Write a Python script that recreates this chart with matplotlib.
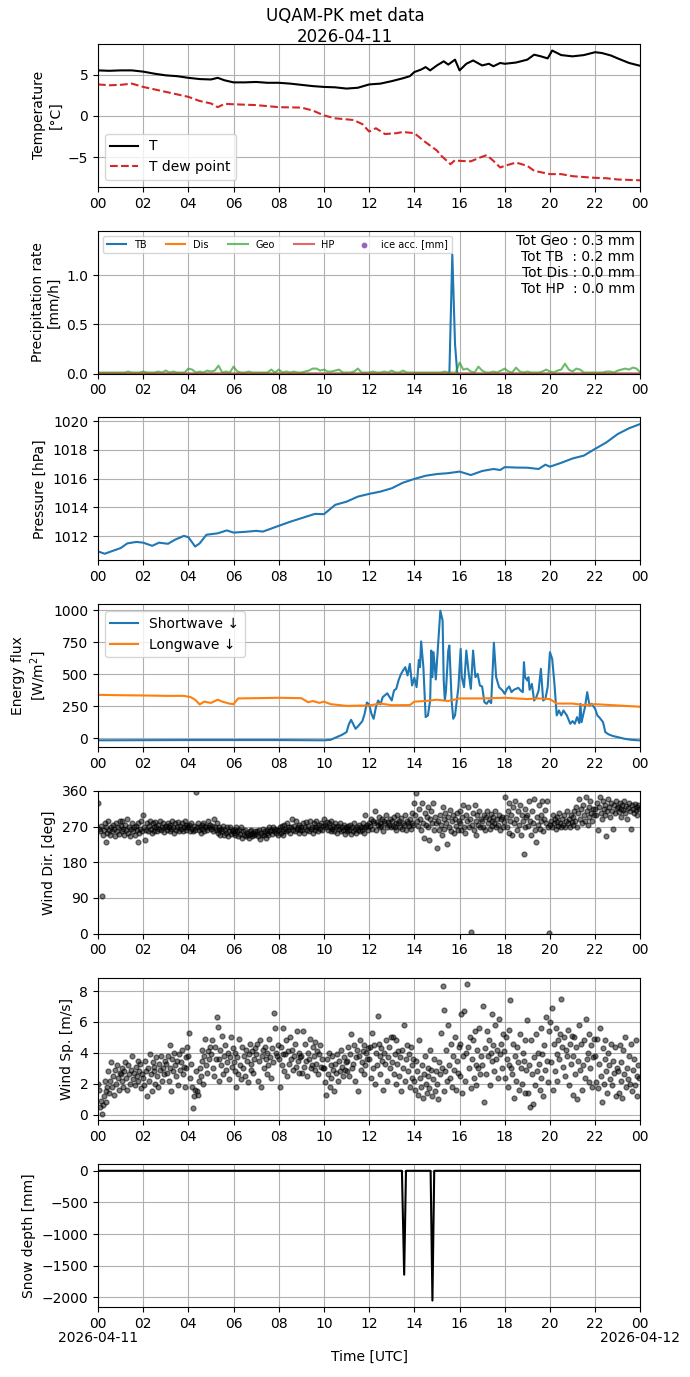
import numpy as np
import matplotlib
matplotlib.use("Agg")
import matplotlib.pyplot as plt
import matplotlib.dates as mdates
from matplotlib.ticker import FixedLocator, FuncFormatter

day = np.datetime64("2026-04-11T00:00")

# --- temperature (hours, degC)
t_hours = [0, 0.5, 1, 1.5, 2, 2.5, 3, 3.5, 4, 4.5, 5, 5.3, 5.6, 6, 6.5, 7, 7.5, 8, 8.5, 9, 9.5, 10,
           10.5, 11, 11.5, 12, 12.5, 13, 13.5, 13.8, 14, 14.3, 14.5, 14.7, 15, 15.3, 15.5, 15.8, 16,
           16.3, 16.6, 17, 17.3, 17.5, 17.8, 18, 18.5, 19, 19.3, 19.6, 19.9, 20.1, 20.5, 21, 21.5,
           22, 22.3, 22.7, 23, 23.5, 24]
temp = [5.5, 5.45, 5.5, 5.5, 5.35, 5.1, 4.9, 4.8, 4.6, 4.45, 4.4, 4.6, 4.3, 4.05, 4.05, 4.1, 4.0, 4.0,
        3.9, 3.75, 3.6, 3.5, 3.45, 3.3, 3.4, 3.8, 3.9, 4.2, 4.55, 4.8, 5.3, 5.6, 5.9, 5.5, 6.1, 6.6,
        6.2, 6.8, 5.5, 6.3, 6.7, 6.1, 6.3, 6.0, 6.4, 6.3, 6.45, 6.8, 7.4, 7.2, 6.95, 7.9, 7.35, 7.2,
        7.35, 7.7, 7.6, 7.3, 6.95, 6.4, 6.05]
dew_hours = [0, 0.5, 1, 1.5, 2, 2.5, 3, 3.5, 4, 4.5, 5, 5.3, 5.6, 6, 7, 8, 9, 9.5, 10, 10.5, 11.3,
             11.7, 12, 12.3, 12.7, 13.2, 13.5, 14, 14.5, 15, 15.2, 15.6, 15.8, 16, 16.5, 16.9, 17.2,
             17.5, 17.8, 18, 18.5, 19, 19.3, 20, 20.5, 21, 22, 22.5, 23, 24]
dew = [3.8, 3.7, 3.75, 3.9, 3.5, 3.2, 2.9, 2.6, 2.3, 1.8, 1.5, 1.05, 1.45, 1.4, 1.3, 1.05, 1.0, 0.65,
       0.05, -0.3, -0.5, -1.0, -1.9, -1.5, -2.2, -2.1, -1.95, -2.1, -3.2, -4.2, -4.85, -5.85, -5.35,
       -5.45, -5.5, -5.05, -4.75, -5.45, -6.25, -6.05, -5.65, -6.05, -6.65, -7.05, -7.05, -7.3,
       -7.5, -7.55, -7.7, -7.8]

# --- precipitation rate (mm/h)
tb_hours = [0, 15.5, 15.55, 15.68, 15.8, 15.9, 24]
tb_rate = [0, 0, 0, 1.21, 0.3, 0, 0]
zero_hours = [0, 24]
dis_rate = [0, 0]
hp_rate = [0, 0]
geo_rate = [0.01, 0.01, 0.01, 0.01, 0.01, 0.01,
            0.01, 0.01, 0.02, 0.01, 0.01, 0.01,
            0.02, 0.01, 0.01, 0.01, 0.02, 0.01,
            0.03, 0.01, 0.02, 0.01, 0.01, 0.01,
            0.05, 0.04, 0.01, 0.02, 0.01, 0.03,
            0.02, 0.03, 0.08, 0.01, 0.02, 0.01,
            0.07, 0.02, 0.01, 0.01, 0.02, 0.01,
            0.01, 0.01, 0.01, 0.01, 0.04, 0.01,
            0.04, 0.01, 0.02, 0.01, 0.02, 0.01,
            0.01, 0.02, 0.03, 0.05, 0.05, 0.03,
            0.04, 0.02, 0.02, 0.03, 0.04, 0.01,
            0.01, 0.01, 0.02, 0.05, 0.01, 0.01,
            0.01, 0.02, 0.01, 0.01, 0.02, 0.01,
            0.03, 0.01, 0.01, 0.03, 0.01, 0.01,
            0.01, 0.01, 0.01, 0.01, 0.01, 0.01,
            0.01, 0.01, 0.02, 0.01, 0.01, 0.01,
            0.11, 0.04, 0.05, 0.02, 0.01, 0.07,
            0.03, 0.01, 0.01, 0.02, 0.01, 0.03,
            0.05, 0.02, 0.01, 0.06, 0.02, 0.01,
            0.02, 0.01, 0.01, 0.01, 0.02, 0.04,
            0.02, 0.01, 0.03, 0.04, 0.10, 0.04,
            0.02, 0.05, 0.04, 0.01, 0.01, 0.01,
            0.01, 0.01, 0.01, 0.02, 0.02, 0.01,
            0.03, 0.04, 0.05, 0.04, 0.06, 0.05,
            0.01]
totals_text = "Tot Geo : 0.3 mm\nTot TB  : 0.2 mm\nTot Dis : 0.0 mm\nTot HP  : 0.0 mm"

# --- pressure (hPa)
p_hours = [0, 0.3, 0.6, 1, 1.3, 1.7, 2, 2.4, 2.7, 3.1, 3.4, 3.8, 4.0, 4.3, 4.5, 4.8, 5.3, 5.7, 6,
           6.5, 7, 7.3, 8, 8.5, 9, 9.6, 10, 10.5, 11, 11.5, 12, 12.5, 13, 13.5, 14, 14.5, 15, 15.5,
           16, 16.5, 17, 17.5, 17.8, 18, 18.5, 19, 19.5, 19.8, 20, 20.5, 21, 21.5, 22, 22.5, 23,
           23.5, 24]
pressure = [1010.94, 1010.78, 1010.95, 1011.17, 1011.5, 1011.6, 1011.55, 1011.33, 1011.55, 1011.47,
            1011.75, 1012.02, 1011.93, 1011.28, 1011.5, 1012.1, 1012.2, 1012.4, 1012.25, 1012.3,
            1012.37, 1012.32, 1012.72, 1013.0, 1013.25, 1013.55, 1013.53, 1014.18, 1014.4, 1014.75,
            1014.94, 1015.1, 1015.33, 1015.72, 1015.98, 1016.2, 1016.32, 1016.38, 1016.49, 1016.25,
            1016.53, 1016.67, 1016.6, 1016.8, 1016.77, 1016.76, 1016.67, 1016.97, 1016.83, 1017.1,
            1017.4, 1017.6, 1018.07, 1018.52, 1019.1, 1019.5, 1019.8]

# --- radiation (W/m2)
sw_hours = [0, 2, 4, 6, 8, 9, 10, 10.3, 10.5, 10.8, 11.0, 11.1, 11.2, 11.4, 11.5, 11.7, 11.8, 11.9,
            12.0, 12.1, 12.2, 12.3, 12.4, 12.5, 12.6, 12.8, 13.0, 13.1, 13.2, 13.3, 13.4, 13.5, 13.6,
            13.7, 13.8, 13.9, 14.0, 14.1, 14.2, 14.25, 14.3, 14.4, 14.45, 14.5, 14.6, 14.7, 14.75,
            14.8, 14.85, 14.95, 15.15, 15.25, 15.3, 15.35, 15.4, 15.5, 15.55, 15.65, 15.72, 15.8,
            15.95, 16.05, 16.1, 16.2, 16.3, 16.4, 16.5, 16.6, 16.7, 16.8, 16.9, 17.0, 17.1, 17.2,
            17.3, 17.4, 17.45, 17.52, 17.62, 17.75, 17.9, 18.0, 18.1, 18.2, 18.3, 18.4, 18.6, 18.7,
            18.8, 18.85, 18.9, 19.0, 19.05, 19.1, 19.2, 19.3, 19.4, 19.5, 19.6, 19.7, 19.8, 19.9,
            20.0, 20.1, 20.2, 20.3, 20.4, 20.5, 20.6, 20.75, 20.9, 21.0, 21.1, 21.2, 21.3, 21.35,
            21.4, 21.55, 21.65, 21.75, 21.85, 22.0, 22.1, 22.2, 22.35, 22.45, 22.6, 22.8, 23.0, 23.3,
            23.6, 24]
shortwave = [-17, -16, -15, -15, -15, -16, -17, -13, 3, 26, 47, 107, 143, 73, 91, 133, 190, 278, 263,
             190, 151, 242, 294, 263, 320, 350, 294, 372, 385, 450, 497, 528, 554, 489, 580, 411,
             471, 398, 611, 554, 755, 554, 359, 164, 177, 294, 684, 476, 671, 458, 995, 918, 450,
             294, 372, 684, 723, 294, 151, 177, 398, 697, 476, 398, 684, 515, 385, 684, 476, 502,
             411, 403, 281, 268, 294, 273, 476, 745, 476, 398, 372, 346, 385, 403, 359, 377, 393,
             372, 359, 593, 476, 450, 476, 377, 424, 294, 320, 372, 541, 294, 307, 398, 671, 619,
             424, 177, 216, 177, 216, 177, 112, 133, 112, 164, 117, 268, 125, 242, 359, 255, 268,
             229, 177, 159, 125, 47, 29, 16, 8, -5, -13, -18]
lw_hours = [0, 1, 2, 3, 3.8, 4.1, 4.3, 4.5, 4.7, 5.0, 5.3, 5.5, 5.8, 6.0, 6.2, 7, 8, 9, 9.3, 9.5,
            9.8, 10.0, 10.3, 11, 12, 12.5, 13, 13.8, 14, 14.5, 15, 15.5, 16, 17, 18, 19, 19.5, 20,
            20.3, 21, 21.5, 22, 23, 24]
longwave = [338, 335, 333, 330, 330, 320, 300, 263, 285, 275, 300, 285, 270, 265, 310, 312, 315, 312,
            280, 290, 275, 285, 265, 252, 255, 270, 257, 258, 285, 290, 300, 290, 310, 310, 315, 305,
            310, 305, 270, 270, 258, 265, 255, 245]

# --- wind, 2.5 min samples (24 per hour)
wind_dir = [
    330, 265, 258, 272, 95, 250, 262, 280, 230, 268, 255, 285, 262, 248, 270, 258, 275, 265, 245, 280, 260, 270, 252, 285,
    272, 258, 285, 265, 250, 275, 262, 288, 255, 270, 245, 265, 280, 258, 268, 250, 272, 262, 230, 278, 255, 265, 285, 260,
    300, 270, 235, 262, 280, 258, 272, 285, 265, 255, 278, 268, 260, 282, 270, 258, 275, 265, 285, 262, 270, 278, 256, 268,
    272, 262, 280, 268, 258, 275, 265, 285, 270, 255, 278, 262, 268, 282, 260, 272, 265, 278, 258, 270, 284, 262, 275, 268,
    268, 275, 260, 280, 265, 258, 272, 262, 358, 270, 278, 262, 268, 255, 275, 265, 280, 260, 272, 268, 262, 285, 270, 275,
    265, 272, 258, 290, 268, 262, 278, 255, 270, 262, 250, 265, 258, 272, 248, 262, 255, 268, 245, 260, 270, 252, 262, 258,
    255, 262, 248, 270, 258, 245, 262, 252, 268, 242, 258, 250, 262, 245, 255, 248, 240, 258, 252, 262, 245, 255, 250, 260,
    252, 258, 245, 262, 238, 255, 250, 265, 248, 258, 242, 262, 255, 250, 268, 258, 262, 252, 270, 258, 265, 255, 262, 250,
    262, 268, 255, 272, 260, 250, 275, 265, 258, 280, 262, 270, 255, 268, 290, 262, 272, 258, 285, 265, 270, 255, 275, 262,
    270, 262, 278, 255, 268, 282, 262, 272, 258, 285, 265, 270, 255, 278, 268, 262, 285, 270, 258, 275, 265, 280, 262, 272,
    290, 275, 268, 282, 262, 278, 270, 258, 285, 265, 272, 260, 278, 268, 255, 272, 265, 280, 258, 270, 262, 275, 252, 268,
    265, 258, 272, 262, 275, 252, 268, 260, 278, 265, 255, 270, 262, 275, 258, 268, 262, 280, 270, 255, 300, 268, 275, 262,
    280, 272, 290, 265, 285, 278, 310, 262, 282, 275, 295, 268, 280, 272, 290, 260, 285, 278, 300, 270, 282, 275, 290, 268,
    285, 272, 295, 268, 280, 262, 300, 278, 285, 270, 292, 265, 280, 275, 298, 262, 285, 278, 272, 290, 265, 305, 280, 275,
    330, 300, 355, 285, 272, 315, 290, 262, 330, 280, 240, 305, 275, 295, 320, 268, 235, 290, 310, 278, 330, 262, 295, 280,
    215, 285, 262, 300, 275, 250, 320, 288, 265, 305, 280, 225, 295, 270, 312, 260, 285, 300, 255, 290, 272, 305, 262, 285,
    280, 310, 262, 295, 325, 270, 255, 300, 285, 320, 268, 290, 5, 275, 305, 262, 325, 285, 250, 298, 275, 310, 268, 290,
    285, 270, 300, 262, 295, 310, 278, 290, 265, 302, 285, 272, 295, 280, 310, 268, 290, 275, 300, 262, 288, 295, 270, 282,
    345, 295, 270, 310, 255, 330, 285, 300, 250, 320, 278, 335, 290, 262, 310, 275, 325, 250, 300, 285, 200, 315, 270, 295,
    300, 272, 335, 285, 250, 310, 280, 340, 262, 230, 295, 275, 325, 265, 300, 285, 335, 258, 290, 312, 278, 335, 270, 2,
    275, 285, 268, 300, 278, 290, 265, 282, 295, 272, 305, 280, 268, 290, 275, 298, 270, 285, 310, 278, 290, 268, 300, 282,
    295, 275, 310, 285, 320, 270, 305, 340, 290, 315, 278, 325, 300, 285, 345, 310, 275, 320, 295, 335, 305, 285, 315, 300,
    315, 300, 330, 262, 320, 345, 305, 290, 335, 315, 300, 325, 245, 310, 340, 320, 295, 330, 310, 265, 325, 305, 335, 318,
    320, 308, 330, 315, 295, 325, 312, 335, 305, 322, 290, 318, 330, 310, 265, 325, 315, 305, 328, 312, 320, 300, 325, 315]
wind_speed = [
    2.0, 1.6, 0.5, 0.9, 0.05, 0.6, 1.2, 2.2, 1.5, 0.8, 1.8, 2.8, 1.4, 2.2, 3.4, 1.8, 2.5, 1.3, 2.9, 2.0, 3.2, 2.4, 1.6, 2.7,
    2.6, 3.0, 2.2, 1.8, 2.8, 3.4, 2.4, 1.6, 3.2, 2.6, 2.0, 2.9, 3.8, 2.3, 2.7, 1.9, 3.1, 2.5, 3.5, 2.2, 2.8, 3.3, 1.7, 2.6,
    2.4, 1.9, 3.5, 2.8, 1.2, 3.0, 2.2, 3.9, 2.6, 1.5, 3.4, 2.8, 3.1, 2.0, 3.7, 2.5, 1.8, 3.3, 2.9, 3.8, 2.2, 3.0, 2.6, 3.5,
    3.3, 2.7, 3.8, 2.2, 4.5, 3.0, 1.5, 3.6, 2.8, 4.0, 3.2, 2.5, 3.5, 1.9, 3.9, 2.9, 3.4, 4.2, 2.6, 3.1, 1.8, 3.7, 3.0, 4.4,
    3.8, 5.3, 2.4, 3.3, 1.8, 0.4, 1.2, 1.6, 2.8, 1.5, 1.3, 2.2, 3.0, 2.5, 4.2, 3.5, 2.0, 3.8, 4.9, 3.2, 2.7, 4.1, 3.6, 4.4,
    3.9, 4.8, 3.0, 2.5, 4.4, 3.6, 6.3, 5.7, 3.6, 2.2, 4.2, 3.2, 5.1, 2.6, 3.8, 4.5, 2.9, 3.4, 4.0, 2.3, 3.7, 5.0, 3.1, 4.3,
    3.4, 2.8, 4.0, 1.8, 3.7, 2.6, 4.9, 3.2, 2.3, 4.4, 3.0, 3.8, 2.5, 4.2, 3.5, 2.1, 3.9, 4.6, 2.9, 3.3, 4.1, 2.7, 3.6, 4.3,
    3.9, 4.6, 2.2, 3.5, 4.8, 1.8, 3.8, 4.2, 3.0, 4.4, 3.6, 2.6, 4.0, 3.2, 4.9, 3.7, 2.4, 4.3, 3.4, 6.6, 5.6, 4.0, 3.8, 4.5,
    3.6, 1.8, 4.4, 3.2, 3.9, 5.6, 2.8, 3.9, 4.8, 2.5, 4.1, 3.3, 5.0, 3.6, 4.2, 2.9, 3.8, 4.6, 3.1, 5.4, 3.5, 4.0, 2.7, 3.7,
    3.8, 2.7, 5.4, 3.1, 4.6, 3.5, 2.5, 4.0, 3.6, 4.9, 3.0, 3.2, 4.4, 3.8, 2.9, 4.7, 3.3, 4.1, 2.6, 3.9, 4.5, 3.1, 3.6, 3.0,
    3.0, 2.1, 1.3, 3.6, 2.6, 4.0, 1.8, 3.2, 2.4, 3.8, 2.9, 1.5, 3.3, 2.7, 3.9, 2.2, 3.5, 2.8, 4.2, 3.1, 2.5, 3.7, 2.9, 3.4,
    3.5, 2.8, 4.4, 2.5, 3.9, 5.2, 3.0, 3.3, 4.5, 2.2, 3.7, 4.2, 1.5, 3.8, 4.8, 2.9, 3.4, 4.1, 2.6, 4.5, 3.2, 4.0, 3.6, 4.3,
    3.6, 4.4, 2.4, 5.3, 3.0, 4.5, 2.0, 4.0, 3.2, 6.4, 4.6, 3.8, 2.6, 4.3, 3.5, 1.6, 4.0, 3.3, 4.8, 2.2, 3.7, 4.4, 3.0, 5.0,
    3.4, 5.0, 2.6, 3.9, 2.0, 4.8, 3.3, 4.1, 2.5, 3.7, 1.5, 4.2, 3.0, 5.8, 2.2, 3.6, 4.5, 2.8, 3.9, 1.8, 4.4, 3.2, 2.4, 3.6,
    2.2, 1.6, 3.5, 2.8, 1.3, 4.8, 2.4, 1.8, 3.2, 1.1, 2.6, 3.8, 2.0, 1.4, 3.0, 2.5, 1.7, 4.2, 2.9, 1.2, 2.3, 3.6, 1.5, 2.8,
    2.0, 1.0, 3.4, 2.6, 5.3, 3.0, 8.3, 6.8, 1.5, 2.8, 4.2, 2.2, 5.8, 3.2, 2.4, 4.6, 1.8, 3.8, 2.9, 5.0, 1.6, 3.5, 2.7, 4.4,
    4.6, 2.5, 6.5, 1.4, 3.8, 6.7, 2.2, 4.0, 8.45, 4.4, 3.0, 5.0, 1.7, 3.6, 4.8, 2.4, 5.4, 3.2, 1.9, 4.2, 3.0, 5.6, 2.6, 3.8,
    3.2, 7.0, 0.8, 4.3, 2.6, 5.4, 3.8, 4.8, 1.9, 4.0, 6.5, 3.5, 4.5, 2.8, 5.8, 3.6, 4.2, 2.4, 6.2, 3.9, 4.6, 3.0, 5.2, 4.1,
    2.4, 5.0, 3.6, 1.8, 5.5, 3.2, 7.4, 3.0, 2.6, 4.6, 1.1, 3.8, 2.2, 4.4, 3.4, 1.6, 5.2, 3.0, 2.0, 4.0, 3.5, 1.4, 4.8, 2.9,
    6.1, 1.4, 3.2, 0.5, 4.8, 2.6, 0.7, 3.7, 1.9, 5.2, 2.8, 4.0, 3.3, 1.6, 5.6, 2.4, 3.9, 1.2, 4.5, 2.9, 6.3, 3.5, 2.1, 5.4,
    6.0, 3.4, 6.9, 1.6, 4.6, 2.8, 5.6, 3.9, 2.2, 4.8, 3.6, 5.2, 7.5, 4.4, 3.1, 5.0, 2.5, 4.2, 3.8, 5.5, 1.9, 4.6, 3.3, 5.1,
    1.3, 3.8, 5.0, 2.6, 4.4, 1.0, 3.5, 5.8, 2.9, 4.6, 1.6, 3.2, 4.8, 2.4, 6.2, 3.6, 4.0, 2.1, 5.2, 3.0, 4.5, 1.8, 3.7, 4.9,
    3.8, 2.1, 4.9, 1.7, 3.3, 5.6, 2.5, 0.8, 4.3, 2.0, 3.6, 4.8, 2.8, 1.4, 4.0, 3.2, 2.3, 4.6, 1.9, 3.5, 2.7, 4.4, 1.2, 3.0,
    2.8, 1.4, 4.5, 2.2, 3.4, 1.1, 4.2, 2.6, 5.0, 1.8, 3.0, 2.3, 3.8, 2.0, 4.6, 1.5, 2.9, 3.6, 1.9, 4.8, 2.5, 1.2, 3.2, 2.4]

# --- snow depth (mm)
snow_hours = [0, 13.45, 13.55, 13.63, 14.72, 14.8, 14.88, 24]
snow_depth = [0, 0, -1643, 0, 0, -2052, 0, 0]


def to_time(hours):
    secs = np.round(np.asarray(hours, dtype=float) * 3600).astype("int64")
    return day + secs.astype("timedelta64[s]")


wind_time = to_time(np.arange(len(wind_dir)) / 24)
geo_time = to_time(np.arange(len(geo_rate)) / 6)

fig, axs = plt.subplots(7, 1, figsize=(6.9, 13.77), dpi=100)
fig.subplots_adjust(left=0.142, right=0.928, top=0.968, bottom=0.0508, hspace=0.308)
fig.suptitle("UQAM-PK met data\n2026-04-11", y=0.995)

ax = axs[0]
ax.plot(to_time(t_hours), temp, color="k", label="T")
ax.plot(to_time(dew_hours), dew, color="tab:red", ls="--", label="T dew point")
ax.set_ylabel("Temperature\n[°C]")
ax.legend(loc="lower left")

ax = axs[1]
ax.plot(to_time(tb_hours), tb_rate, color="tab:blue", label="TB")
ax.plot(to_time(zero_hours), dis_rate, color="tab:orange", label="Dis")
ax.plot(geo_time, geo_rate, color="tab:green", alpha=0.7, label="Geo")
ax.plot(to_time(zero_hours), hp_rate, color="tab:red", alpha=0.7, label="HP")
ax.scatter([], [], s=10, color="tab:purple", label="ice acc. [mm]")
ax.set_ylim(0, max(tb_rate) * 1.2)
ax.set_ylabel("Precipitation rate\n[mm/h]")
ax.legend(loc="upper left", ncol=5, fontsize=7)
ax.text(0.99, 0.98, totals_text, transform=ax.transAxes, ha="right", va="top",
        multialignment="right")

ax = axs[2]
ax.plot(to_time(p_hours), pressure, color="tab:blue")
ax.set_ylabel("Pressure [hPa]")

ax = axs[3]
ax.plot(to_time(sw_hours), shortwave, color="tab:blue", label="Shortwave ↓")
ax.plot(to_time(lw_hours), longwave, color="tab:orange", label="Longwave ↓")
ax.set_ylabel("Energy flux\n[W/m$^2$]")
ax.legend(loc="upper left")

ax = axs[4]
ax.plot(wind_time, wind_dir, "o", color="k", alpha=0.5, ms=3.5)
ax.set_ylim(0, 360)
ax.set_yticks([0, 90, 180, 270, 360])
ax.set_ylabel("Wind Dir. [deg]")

ax = axs[5]
ax.plot(wind_time, wind_speed, "o", color="k", alpha=0.5, ms=3.5)
ax.set_ylabel("Wind Sp. [m/s]")

ax = axs[6]
ax.plot(to_time(snow_hours), snow_depth, color="k")
ax.set_ylabel("Snow depth [mm]")
ax.set_xlabel("Time [UTC]")

start = day
end = day + np.timedelta64(1, "D")
for ax in axs:
    ax.set_xlim(start, end)
    ax.xaxis.set_major_locator(mdates.HourLocator(byhour=range(0, 24, 2)))
    ax.xaxis.set_major_formatter(mdates.DateFormatter("%H"))
    ax.grid(True)

# date labels under the first and last hour ticks of the bottom panel
bottom = axs[6]
bottom.xaxis.remove_overlapping_locs = False
bottom.xaxis.set_minor_locator(FixedLocator(mdates.date2num([start, end])))
bottom.xaxis.set_minor_formatter(FuncFormatter(lambda x, pos: mdates.num2date(x).strftime("%Y-%m-%d")))
bottom.tick_params(axis="x", which="minor", length=0, pad=17)

fig.savefig("out.png")
